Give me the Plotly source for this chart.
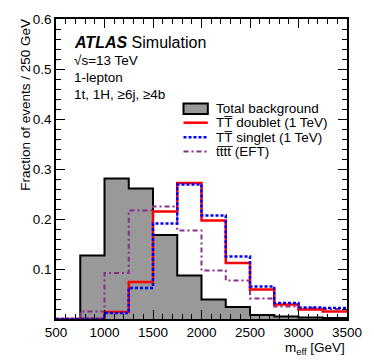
"""ATLAS m_eff shape comparison, 1-lepton 1t 1H >=6j >=4b region"""

import plotly.graph_objects as go

# bin edges in GeV (250 GeV bins)
bin_edges = [500, 750, 1000, 1250, 1500, 1750, 2000, 2250, 2500, 2750, 3000, 3250, 3500]

# normalised fractions per bin
background = [0.0, 0.127, 0.281, 0.261, 0.168, 0.087, 0.039, 0.024, 0.008, 0.005, 0.003, 0.002]
doublet = [0.0, 0.0, 0.014, 0.074, 0.215, 0.272, 0.197, 0.112, 0.059, 0.029, 0.019, 0.015]
singlet = [0.0, 0.0, 0.012, 0.062, 0.191, 0.269, 0.207, 0.125, 0.065, 0.032, 0.023, 0.022]
tttt_eft = [0.0, 0.015, 0.092, 0.217, 0.225, 0.177, 0.097, 0.077, 0.041, 0.025, 0.022, 0.020]

x_ticks = [500, 1000, 1500, 2000, 2500, 3000, 3500]
x_ticktext = ["500", "1000", "1500", "2000", "2500", "3000", "3500"]
y_ticks = [0.1, 0.2, 0.3, 0.4, 0.5, 0.6]
y_ticktext = ["0.1", "0.2", "0.3", "0.4", "0.5", "0.6"]

W, H = 374, 363
L, R, T, B = 56, 19, 19, 44
FONT = "Liberation Sans, Arial, Helvetica, sans-serif"

STYLES = {
    "bkg": dict(color="black", width=2),
    "doublet": dict(color="#ff0000", width=2.5),
    "singlet": dict(color="#0000ff", width=2.5, dash="3px,2px"),
    "tttt": dict(color="#8a2c8a", width=2, dash="5px,3px,2px,3px"),
}
GRAY = "#999999"


def px_x(px: float) -> float:
    """pixel -> paper x"""
    return (px - L) / (W - L - R)


def px_y(py: float) -> float:
    """pixel -> paper y"""
    return (H - B - py) / (H - T - B)


def step_y(vals: list) -> list:
    """repeat the last bin so hv steps close the final bin"""
    return list(vals) + [vals[-1]]


fig = go.Figure()

fig.add_trace(
    go.Scatter(
        x=bin_edges,
        y=step_y(background),
        mode="lines",
        line_shape="hv",
        fill="tozeroy",
        fillcolor=GRAY,
        line=STYLES["bkg"],
        name="Total background",
    )
)
for vals, key, name in [
    (tttt_eft, "tttt", "tt\u0305tt\u0305 (EFT)"),
    (doublet, "doublet", "TT\u0305 doublet (1 TeV)"),
    (singlet, "singlet", "TT\u0305 singlet (1 TeV)"),
]:
    fig.add_trace(
        go.Scatter(
            x=bin_edges,
            y=step_y(vals),
            line_shape="hv",
            mode="lines",
            line=STYLES[key],
            name=name,
        )
    )

axis_common = dict(
    ticks="inside",
    tickcolor="black",
    tickwidth=1,
    showline=True,
    linecolor="black",
    linewidth=1.5,
    mirror="allticks",
    showgrid=False,
    zeroline=False,
    tickfont=dict(size=13.5, family=FONT, color="black"),
)

fig.update_layout(
    width=W,
    height=H,
    margin=dict(l=L, r=R, t=T, b=B),
    plot_bgcolor="white",
    paper_bgcolor="white",
    showlegend=False,
    font=dict(family=FONT, size=13.5, color="black"),
    xaxis=dict(
        range=[500, 3500],
        tickvals=x_ticks,
        ticktext=x_ticktext,
        ticklen=9,
        minor=dict(dtick=100, tick0=500, ticks="inside", ticklen=5, tickcolor="black"),
        **axis_common,
    ),
    yaxis=dict(
        range=[0, 0.6],
        tickvals=y_ticks,
        ticktext=y_ticktext,
        ticklen=9,
        minor=dict(dtick=0.02, tick0=0, ticks="inside", ticklen=5, tickcolor="black"),
        **axis_common,
    ),
)

# texts
texts = [
    ("<b><i>ATLAS</i></b> Simulation", 72, 42.7, 16),
    ("\u221as=13 TeV", 72, 60, 13.5),
    ("1-lepton", 72, 77.7, 13.5),
    ("1t, 1H, \u22656j, \u22654b", 72, 95, 13.5),
]
for text, x, y, size in texts:
    fig.add_annotation(
        text=text, x=px_x(x), y=px_y(y), xref="paper", yref="paper",
        xanchor="left", yanchor="middle", showarrow=False, font_size=size,
    )

fig.add_annotation(
    text="Fraction of events / 250 GeV", textangle=-90,
    x=px_x(25), y=px_y(105), xref="paper", yref="paper",
    xanchor="center", yanchor="middle", showarrow=False, font_size=13.5,
)
fig.add_annotation(
    text="m<sub>eff</sub> [GeV]",
    x=px_x(355), y=px_y(348), xref="paper", yref="paper",
    xanchor="right", yanchor="middle", showarrow=False, font_size=13.5,
)

# legend, drawn by hand to keep ROOT-like compact rows
leg_x0, leg_x1, leg_tx = 187, 212, 218
fig.add_shape(
    type="rect", xref="paper", yref="paper",
    x0=px_x(leg_x0), x1=px_x(leg_x1), y0=px_y(114), y1=px_y(103.5),
    fillcolor=GRAY, line=dict(color="black", width=2),
)
legend_rows = [
    ("Total background", None, 108.8),
    ("TT\u0305 doublet (1 TeV)", "doublet", 122.7),
    ("TT\u0305 singlet (1 TeV)", "singlet", 137.2),
    ("tt\u0305tt\u0305 (EFT)", "tttt", 151.5),
]
for text, key, y in legend_rows:
    if key:
        fig.add_shape(
            type="line", xref="paper", yref="paper",
            x0=px_x(leg_x0), x1=px_x(leg_x1), y0=px_y(y), y1=px_y(y),
            line=STYLES[key],
        )
    fig.add_annotation(
        text=text, x=px_x(leg_tx), y=px_y(y), xref="paper", yref="paper",
        xanchor="left", yanchor="middle", showarrow=False, font_size=13.5,
    )

fig.write_html(
    "out.html",
    config={"displayModeBar": False},
    post_script="document.body.style.margin='0';",
)
